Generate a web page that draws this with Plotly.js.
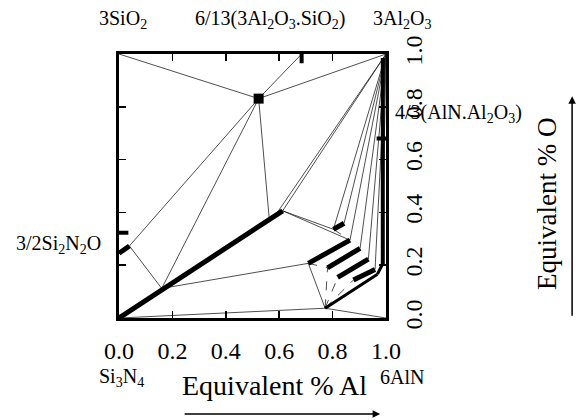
<!DOCTYPE html>
<html><head><meta charset="utf-8">
<script src="https://cdn.plot.ly/plotly-3.0.1.min.js"></script>
<style>html,body{margin:0;padding:0;background:#fff}#chart{width:576px;height:420px}</style>
</head><body><div id="chart"></div>
<script>
// Node compositions: equivalent fraction Al (x) and O (y)
const nodeNames = ["Si3N4","AlN","Al2O3","SiO2","mullite","mulliteTick","Oa","Ob","P","E","E2","Mend",
  "Q","R1a","R1b","R2a","R2b","R3a","R3b","R4a","R4b","Ua","Ub","V","W"];
const nodeAl = [0,1,1,0,0.523,0.684,0,0.039,0.16,0.613,0.585,0.563,
  0.772,0.709,0.865,0.781,0.903,0.819,0.934,0.878,0.959,0.803,0.843,0.968,0.985];
const nodeO  = [0,0,1,1,0.831,1,0.245,0.273,0.112,0.406,0.388,0.373,
  0.037,0.207,0.295,0.19,0.264,0.154,0.223,0.144,0.184,0.336,0.359,0.166,0.2];

// tie lines (index pairs)
const thinEdges = [[3,4],[4,2],[4,5],[4,7],[4,8],[4,11],[7,8],[8,13],[0,12],[12,1],
  [10,2],[9,2],[9,21],[9,14],[2,21],[2,22],[2,14],[2,16],[2,18],[2,20],[2,24],[12,13]];
const dashEdges = [[12,15],[12,17],[12,19],[13,15],[21,14]];
const thickEdges = [[0,9],[6,7],[13,14],[15,16],[17,18],[19,20],[21,22]];
const mediumEdges = [[12,23],[23,24]];
// AlON / polytypoid band along the AlN-Al2O3 join
const bandAl = [0.988,0.988];
const bandO  = [0.2,0.985];
// composition marks
const markAl = [[0.684,0.684],[0,0.035],[1,0.965]];
const markO  = [[1,0.965],[0.323,0.323],[0.68,0.68]];

const xTicks = [0,0.2,0.4,0.6,0.8,1.0];
const xTickText = ["0.0","0.2","0.4","0.6","0.8","1.0"];
const yTicks = [0,0.2,0.4,0.6,0.8,1.0];
const yTickText = ["0.0","0.2","0.4","0.6","0.8","1.0"];
const xTitle = 'Equivalent % Al';
const yTitle = 'Equivalent % O';

function segs(edges){
  const x=[],y=[];
  edges.forEach(e=>{x.push(nodeAl[e[0]],nodeAl[e[1]],null);y.push(nodeO[e[0]],nodeO[e[1]],null);});
  return {x,y};
}
const traces=[];
let s=segs(thinEdges);
traces.push({x:s.x,y:s.y,mode:'lines',line:{color:'#222',width:0.8},hoverinfo:'skip'});
s=segs(dashEdges);
traces.push({x:s.x,y:s.y,mode:'lines',line:{color:'#222',width:0.8,dash:'dash'},hoverinfo:'skip'});
s=segs(mediumEdges);
traces.push({x:s.x,y:s.y,mode:'lines',line:{color:'#000',width:3},hoverinfo:'skip'});
s=segs(thickEdges);
traces.push({x:s.x,y:s.y,mode:'lines',line:{color:'#000',width:5},hoverinfo:'skip'});
traces.push({x:bandAl,y:bandO,mode:'lines',line:{color:'#000',width:4},hoverinfo:'skip'});
markAl.forEach((mx,i)=>traces.push({x:mx,y:markO[i],mode:'lines',line:{color:'#000',width:4},hoverinfo:'skip'}));
traces.push({x:[nodeAl[4]],y:[nodeO[4]],mode:'markers',marker:{symbol:'square',size:10,color:'#000'},hoverinfo:'skip'});

const F='Liberation Serif';
function ann(text,x,y,size,angle){return {text,x,y,xref:'paper',yref:'paper',xanchor:'center',yanchor:'middle',textangle:angle||0,showarrow:false,font:{family:F,size:size,color:'#000'}};}
const annotations=[
  ann('3SiO<sub>2</sub>',0.015,1.13,20),
  ann('6/13(3Al<sub>2</sub>O<sub>3</sub>.SiO<sub>2</sub>)',0.566,1.13,20),
  ann('3Al<sub>2</sub>O<sub>3</sub>',1.06,1.13,20),
  ann('4/3(AlN.Al<sub>2</sub>O<sub>3</sub>)',1.27,0.775,20),
  ann('3/2Si<sub>2</sub>N<sub>2</sub>O',-0.228,0.277,20),
  ann('Si<sub>3</sub>N<sub>4</sub>',0.011,-0.225,20),
  ann('6AlN',1.06,-0.225,20),
  ann(xTitle,0.581,-0.254,28),
  ann(yTitle,1.603,0.432,27,-90),
  {x:1.697,y:0.84,xref:'paper',yref:'paper',ax:0,ay:221,showarrow:true,arrowhead:2,arrowsize:1,arrowwidth:1.5,arrowcolor:'#000',text:''},
  {x:0.978,y:-0.364,xref:'paper',yref:'paper',ax:-197,ay:0,showarrow:true,arrowhead:2,arrowsize:1,arrowwidth:1.5,arrowcolor:'#000',text:''}
];

const layout={
  width:576,height:420,margin:{l:119,r:190,t:54,b:102},
  paper_bgcolor:'#fff',plot_bgcolor:'#fff',showlegend:false,
  font:{family:F,color:'#000',size:24},
  xaxis:{range:[0,1],tickvals:xTicks,ticktext:xTickText,ticks:'inside',ticklen:7,tickwidth:1.5,tickcolor:'#000',
    showline:true,linewidth:3,linecolor:'#000',mirror:'ticks',showgrid:false,zeroline:false,
    tickfont:{family:F,size:24,color:'#000'},ticklabelstandoff:9},
  yaxis:{range:[0,1],side:'right',tickvals:yTicks,ticktext:yTickText,ticks:'inside',ticklen:7,tickwidth:1.5,tickcolor:'#000',
    showline:true,linewidth:3,linecolor:'#000',mirror:'ticks',showgrid:false,zeroline:false,
    tickangle:-90,tickfont:{family:F,size:24,color:'#000'},ticklabelstandoff:4},
  annotations:annotations
};
Plotly.newPlot('chart',traces,layout,{staticPlot:true,displayModeBar:false});
</script></body></html>
